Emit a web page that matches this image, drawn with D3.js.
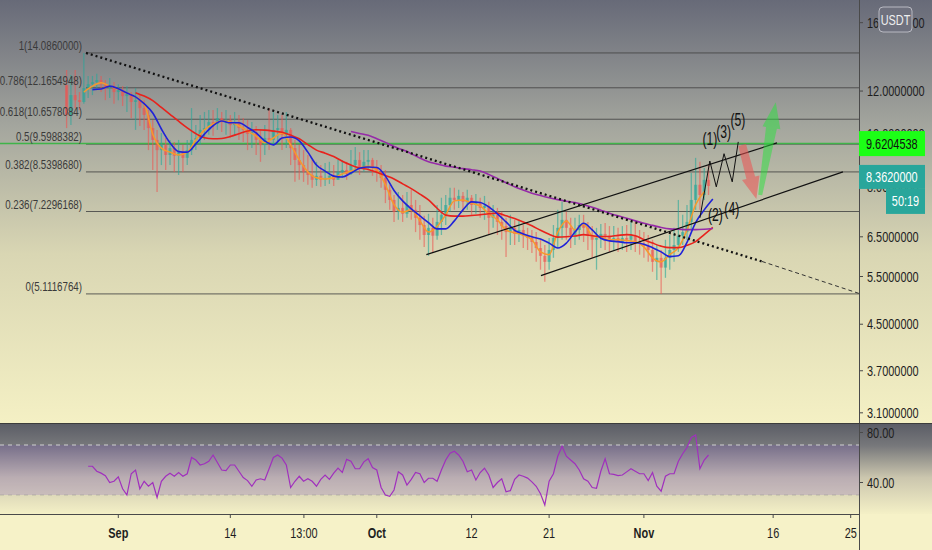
<!DOCTYPE html>
<html lang="en">

<script src="https://d3js.org/d3.v7.min.js"></script>

<head>
    <meta charset="UTF-8">
    <title>USDT chart</title>
    <style>
        body {
            margin: 0;
            background-color: #f6f2c8;
            overflow: hidden;
        }
        svg {
            display: block;
            font-family: "Liberation Sans", Arial, sans-serif;
        }
    </style>
</head>
<body>

    <svg width="932" height="550"></svg>

    <script>
        // ---- data ----
        // 12h candles starting Aug 26
        const candleStart = "2020-08-26T00:00:00Z";
        const candleStepHours = 12;
        const firstOpen = 12.30;

        const closes = [
            10.85, 11.80, 11.55, 11.46, 12.15, 12.35, 12.46, 12.57, 12.35, 12.15,
            12.25, 11.95, 12.05, 11.75, 11.85, 11.46, 11.55, 11.17, 10.85, 10.27,
            9.77, 9.36, 9.56, 9.17, 9.44, 9.14, 9.28, 9.06, 9.36, 9.77,
            9.85, 10.19, 10.27, 10.53, 10.45, 10.71, 10.53, 10.62, 10.40, 10.53,
            10.27, 10.19, 10.02, 10.10, 9.77, 9.56, 9.85, 9.77, 10.19, 10.27,
            9.98, 10.19, 9.44, 8.98, 8.79, 8.54, 8.43, 8.26, 8.40, 8.26,
            8.33, 8.40, 8.26, 8.54, 8.61, 8.47, 8.79, 8.98, 8.68, 8.91,
            8.98, 8.68, 8.54, 8.33, 7.92, 7.59, 7.22, 7.34, 7.16, 7.43,
            7.28, 7.04, 6.83, 6.55, 6.75, 6.53, 6.92, 7.13, 7.43, 7.66,
            7.59, 7.72, 7.53, 7.66, 7.43, 7.49, 7.34, 7.40, 7.04, 7.13,
            6.92, 6.80, 6.63, 6.75, 6.58, 6.69, 6.53, 6.47, 6.36, 6.20,
            6.00, 5.85, 6.15, 6.47, 6.75, 6.98, 6.75, 6.55, 6.69, 6.83,
            6.75, 6.53, 6.42, 6.47, 6.58, 6.53, 6.42, 6.47, 6.36, 6.47,
            6.42, 6.53, 6.36, 6.31, 6.26, 6.15, 5.85, 5.95, 5.71, 5.95,
            6.15, 6.28, 6.53, 6.63, 6.92, 7.59, 8.09, 7.75, 8.26, 8.05
        ];
        const highs = [
            13.11, 12.84, 13.11, 11.95, 14.09, 12.79, 12.79, 12.90, 12.79, 12.57,
            12.68, 12.46, 12.35, 12.25, 12.25, 11.95, 12.15, 11.80, 11.55, 11.08,
            10.62, 10.19, 10.06, 9.85, 9.77, 9.69, 9.77, 9.56, 9.77, 11.17,
            10.40, 10.85, 10.99, 11.08, 11.08, 11.17, 10.99, 11.08, 10.85, 10.99,
            10.85, 10.71, 10.62, 10.53, 10.36, 10.19, 10.40, 11.17, 10.99, 10.85,
            10.85, 10.99, 10.27, 9.77, 9.56, 9.36, 9.17, 8.98, 8.91, 8.79,
            8.87, 8.91, 8.79, 8.98, 8.98, 8.91, 9.36, 9.48, 9.28, 9.36,
            9.36, 9.06, 8.98, 8.79, 8.61, 8.09, 7.75, 7.85, 7.75, 7.85,
            7.92, 7.59, 7.43, 7.10, 7.16, 7.04, 7.43, 7.66, 7.75, 7.99,
            7.99, 7.92, 7.85, 7.92, 7.75, 7.78, 7.66, 7.72, 7.53, 7.43,
            7.34, 7.22, 7.04, 7.13, 6.98, 6.98, 6.83, 6.75, 6.69, 6.63,
            6.42, 6.28, 6.47, 6.83, 7.28, 7.53, 7.22, 7.04, 7.04, 7.13,
            7.13, 6.92, 6.80, 6.75, 6.86, 6.89, 6.80, 6.80, 6.75, 6.80,
            6.83, 6.92, 6.92, 6.69, 6.63, 6.55, 6.42, 6.28, 6.15, 6.42,
            6.55, 6.75, 7.59, 7.13, 7.43, 8.50, 9.06, 8.91, 8.68, 8.79
        ];
        const lows = [
            10.27, 10.40, 11.17, 11.08, 11.37, 11.65, 11.80, 12.05, 11.95, 11.55,
            11.65, 11.37, 11.55, 11.27, 10.99, 10.71, 10.19, 10.36, 10.19, 9.36,
            8.61, 7.85, 8.79, 8.61, 8.79, 8.54, 8.43, 8.54, 8.79, 9.17,
            9.36, 9.56, 9.77, 9.98, 9.94, 10.19, 10.10, 9.98, 9.85, 9.98,
            9.77, 9.69, 9.36, 9.44, 9.17, 8.91, 9.17, 9.36, 9.56, 9.69,
            9.36, 9.44, 8.79, 8.19, 8.26, 8.19, 8.09, 7.99, 8.05, 8.02,
            8.05, 8.12, 8.05, 8.26, 8.33, 8.26, 8.43, 8.54, 8.43, 8.54,
            8.61, 8.40, 8.19, 7.99, 7.49, 7.28, 6.92, 6.98, 6.92, 7.04,
            6.98, 6.63, 6.42, 6.23, 6.00, 6.07, 6.42, 6.55, 6.83, 7.22,
            7.28, 7.34, 7.22, 7.28, 7.13, 7.16, 7.04, 6.98, 6.55, 6.75,
            6.55, 6.42, 5.97, 6.28, 6.28, 6.36, 6.20, 6.15, 6.07, 5.85,
            5.66, 5.38, 5.66, 5.95, 6.20, 6.42, 6.42, 6.20, 6.28, 6.42,
            6.36, 6.15, 5.95, 5.66, 6.20, 6.15, 6.10, 6.15, 6.10, 6.15,
            6.10, 6.15, 6.10, 6.03, 5.95, 5.85, 5.61, 5.42, 5.11, 5.47,
            5.66, 5.85, 6.10, 6.28, 6.42, 6.69, 7.28, 7.28, 7.59, 7.75
        ];

        // moving averages, one value per day (every 2nd candle) from a start candle
        const orangeStart = 4;
        const orangeMA = [
            11.95, 12.25, 12.43, 12.25, 12.10, 11.90, 11.71, 11.38, 10.01, 9.44,
            9.28, 9.17, 9.28, 9.77, 10.19, 10.45, 10.58, 10.54, 10.36, 10.14,
            9.93, 9.65, 9.85, 10.06, 9.57, 8.98, 8.54, 8.33, 8.29, 8.33,
            8.47, 8.57, 8.68, 8.75, 8.61, 8.09, 7.44, 7.21, 7.28, 6.95,
            6.63, 6.79, 7.13, 7.56, 7.59, 7.49, 7.40, 7.16, 6.98, 6.69,
            6.61, 6.55, 6.42, 6.10, 6.03, 6.63, 6.95, 6.69, 6.85, 6.53,
            6.48, 6.42, 6.42, 6.40, 6.37, 6.23, 5.95, 5.85, 6.03, 6.21,
            6.69, 7.44, 7.86
        ];
        const blueStart = 6;
        const blueMA = [
            12.07, 12.10, 12.25, 12.12, 11.90, 11.71, 11.38, 10.94, 10.23, 9.65,
            9.30, 9.28, 9.61, 10.01, 10.37, 10.58, 10.50, 10.50, 10.30, 10.06,
            9.73, 9.57, 9.85, 9.89, 9.73, 9.28, 8.79, 8.57, 8.39, 8.36,
            8.50, 8.67, 8.72, 8.70, 8.39, 7.90, 7.56, 7.31, 7.10, 6.90,
            6.72, 6.72, 6.95, 7.28, 7.53, 7.51, 7.37, 7.16, 6.92, 6.68,
            6.58, 6.50, 6.44, 6.33, 6.20, 6.33, 6.63, 6.88, 6.69, 6.46,
            6.39, 6.37, 6.34, 6.34, 6.30, 6.21, 6.10, 5.98, 6.00, 6.35,
            6.90, 7.28, 7.62
        ];
        const redStart = 16;
        const redMA = [
            11.92, 11.75, 11.53, 11.20, 10.88, 10.57, 10.28, 10.03, 9.86, 9.82,
            9.83, 9.91, 10.03, 10.14, 10.20, 10.18, 10.14, 10.09, 9.97, 9.82,
            9.58, 9.36, 9.24, 9.11, 8.93, 8.79, 8.68, 8.63, 8.53, 8.41,
            8.29, 8.12, 7.96, 7.78, 7.59, 7.33, 7.12, 7.09, 7.09, 7.11,
            7.13, 7.16, 7.18, 7.10, 7.02, 6.92, 6.81, 6.68, 6.57, 6.49,
            6.50, 6.52, 6.56, 6.53, 6.51, 6.51, 6.54, 6.56, 6.53, 6.42,
            6.33, 6.25, 6.21, 6.21, 6.27, 6.37, 6.56, 6.76
        ];
        const purpleStart = 66;
        const purpleMA = [
            10.12, 10.04, 9.96, 9.82, 9.67, 9.50, 9.37, 9.22, 9.05, 8.91,
            8.83, 8.75, 8.71, 8.66, 8.62, 8.57, 8.45, 8.31, 8.16, 8.02,
            7.91, 7.81, 7.73, 7.66, 7.60, 7.55, 7.51, 7.44, 7.36, 7.27,
            7.18, 7.10, 7.03, 6.95, 6.88, 6.82, 6.76, 6.72, 6.71, 6.70,
            6.70, 6.71, 6.73
        ];

        // rsi, one value per candle from candle 5
        const rsiStart = 5;
        const rsiValues = [
            53, 53, 49, 47.5, 45.5, 40, 41, 44.5, 35, 30,
            47, 50, 35, 41, 37, 40, 28, 41, 45, 47.4,
            45, 48, 45, 47, 60, 58, 54, 55, 57, 62,
            56, 50, 49.5, 54, 54, 49, 44, 41.5, 37, 42,
            43, 42, 51, 60, 62, 59.5, 54, 36, 41, 45,
            41, 43, 41, 37, 42.5, 46, 42.5, 47.5, 51.5, 48,
            58.5, 57, 51, 51, 56.5, 59, 52, 50, 36, 30,
            29, 34, 48.6, 46, 38, 42.5, 48, 47, 40, 43.4,
            43.4, 41, 50, 58, 63.5, 65, 62, 57, 48.6, 50,
            42, 48, 51.4, 46, 36, 40, 43, 32.6, 33.5, 42.5,
            46, 45, 43.5, 40.5, 37, 31, 22, 41, 47, 61,
            69, 61, 58, 55, 50, 43, 41, 36, 35.4, 49,
            59, 47, 46.5, 45.5, 46, 48.5, 51, 49, 47, 47,
            41.5, 48, 37, 33, 45, 47, 47, 57, 63, 68,
            76, 78, 51, 58, 62
        ];

        // fibonacci retracement
        const fibRatios = ["1", "0.786", "0.618", "0.5", "0.382", "0.236", "0"];
        const fibPrices = [14.0860000, 12.1654948, 10.6578084, 9.5988382, 8.5398680, 7.2296168, 5.1116764];
        const fibStartBar = 4.5;

        // axis ticks
        const priceTicks = [16, 12, 10, 8, 6.5, 5.5, 4.5, 3.7, 3.1];
        const rsiTicks = [80, 40];
        const timeTicks = ["2020-09-01T00:00:00Z", "2020-09-14T00:00:00Z", "2020-09-22T13:00:00Z",
            "2020-10-01T00:00:00Z", "2020-10-12T00:00:00Z", "2020-10-21T00:00:00Z",
            "2020-11-01T00:00:00Z", "2020-11-16T00:00:00Z", "2020-11-25T00:00:00Z"];
        const timeLabels = ["Sep", "14", "13:00", "Oct", "12", "21", "Nov", "16", "25"];
        const boldLabels = ["Sep", "Oct", "Nov"];

        // price markers
        const greenLevel = 9.6204538;
        const lastPrice = 8.3620000;
        const countdown = "50:19";
        const currency = "USDT";

        // drawings, as [candle index, price]
        const trendLine = [[4.5, 14.086], [161.4, 5.86]];
        const trendExtension = [[161.4, 5.86], [184, 5.12]];
        const channelUpper = [[83.5, 6.03], [164.9, 9.65]];
        const channelLower = [[110.1, 5.52], [180.2, 8.54]];
        const wavePath = [[147.0, 7.04], [149.3, 8.94], [150.8, 8.02], [152.6, 9.22], [154.5, 8.19], [155.9, 9.69]];
        const waveLabels = ["(1)", "(3)", "(5)", "(2)", "(4)"];
        const waveLabelPos = [[149.3, 9.57], [152.5, 9.85], [155.8, 10.38], [150.6, 6.96], [154.4, 7.13]];
        const redArrow = [[156.8, 9.56], [160.1, 7.62]];
        const greenArrow = [[161.0, 7.75], [164.6, 11.45]];

        // ---- layout ----
        const svgElement = d3.select('svg');
        const axisX = 859;
        const mainBottom = 423;
        const rsiBottom = 514;

        const xScale = d3.scaleUtc()
            .domain([new Date("2020-09-01T00:00:00Z"), new Date("2020-11-25T00:00:00Z")])
            .range([118.3, 850.7]);
        const barX = (i) => xScale(new Date(Date.parse(candleStart) + i * candleStepHours * 3600e3));
        const yScale = d3.scaleLog().domain([2.97, 17.6]).range([mainBottom, 0]);
        const rsiScale = d3.scaleLinear().domain([20, 80]).range([507.5, 432.5]);

        // narrow text, like the screenshot
        function squishText(parent, x, y, str, size, anchor, color, weight, sx) {
            return parent.append("text")
                .attr("transform", `translate(${x},${y}) scale(${sx || 0.78},1)`)
                .attr("text-anchor", anchor)
                .attr("font-size", size)
                .attr("font-weight", weight || "normal")
                .attr("fill", color)
                .text(str);
        }

        // backgrounds
        const defs = svgElement.append("defs");
        const mainGrad = defs.append("linearGradient").attr("id", "mainBg")
            .attr("gradientUnits", "userSpaceOnUse")
            .attr("x1", 0).attr("y1", 0).attr("x2", 0).attr("y2", mainBottom);
        [[0, "#676a78"], [0.3, "#a4a69e"], [0.6, "#d9d6b3"], [1, "#f4f0c4"]].forEach(s => {
            mainGrad.append("stop").attr("offset", s[0]).attr("stop-color", s[1]);
        });
        const rsiGrad = defs.append("linearGradient").attr("id", "rsiBg")
            .attr("gradientUnits", "userSpaceOnUse")
            .attr("x1", 0).attr("y1", mainBottom).attr("x2", 0).attr("y2", rsiBottom);
        [[0, "#5a5c65"], [0.25, "#77787b"], [0.6, "#cbc6ae"], [1, "#f4f0c6"]].forEach(s => {
            rsiGrad.append("stop").attr("offset", s[0]).attr("stop-color", s[1]);
        });
        defs.append("clipPath").attr("id", "mainClip").append("rect")
            .attr("x", 0).attr("y", 0).attr("width", axisX).attr("height", mainBottom);
        defs.append("clipPath").attr("id", "rsiClip").append("rect")
            .attr("x", 0).attr("y", mainBottom).attr("width", axisX).attr("height", rsiBottom - mainBottom);

        svgElement.append("rect").attr("x", 0).attr("y", 0).attr("width", 932).attr("height", mainBottom)
            .attr("fill", "url(#mainBg)");
        svgElement.append("rect").attr("x", 0).attr("y", mainBottom).attr("width", 932).attr("height", rsiBottom - mainBottom)
            .attr("fill", "url(#rsiBg)");
        svgElement.append("rect").attr("x", 0).attr("y", rsiBottom).attr("width", 932).attr("height", 550 - rsiBottom)
            .attr("fill", "#f6f2c8");

        const mainG = svgElement.append("g").attr("clip-path", "url(#mainClip)");
        const rsiG = svgElement.append("g").attr("clip-path", "url(#rsiClip)");

        // fib levels
        fibPrices.forEach((p, k) => {
            mainG.append("line")
                .attr("x1", barX(fibStartBar)).attr("x2", axisX)
                .attr("y1", yScale(p)).attr("y2", yScale(p))
                .attr("stroke", "#454545").attr("stroke-width", 1).attr("opacity", 0.85);
            squishText(svgElement, barX(fibStartBar) - 4, yScale(p) - 3, fibRatios[k] + "(" + p.toFixed(7) + ")",
                12.5, "end", "#3a3a3a");
        });

        // green horizontal level
        mainG.append("line")
            .attr("x1", 0).attr("x2", axisX)
            .attr("y1", yScale(greenLevel)).attr("y2", yScale(greenLevel))
            .attr("stroke", "#3fb449").attr("stroke-width", 1.5);

        // candles
        closes.forEach((c, i) => {
            const o = i === 0 ? firstOpen : closes[i - 1];
            const hi = Math.max(highs[i], o, c);
            const lo = Math.min(lows[i], o, c);
            const up = c >= o;
            const col = up ? "rgba(38,166,154,0.6)" : "rgba(239,83,80,0.6)";
            const x = barX(i);
            mainG.append("line")
                .attr("x1", x).attr("x2", x)
                .attr("y1", yScale(hi)).attr("y2", yScale(lo))
                .attr("stroke", col).attr("stroke-width", 1.3);
            mainG.append("rect")
                .attr("x", x - 1.6).attr("width", 3.2)
                .attr("y", yScale(Math.max(o, c)))
                .attr("height", Math.max(1, Math.abs(yScale(o) - yScale(c))))
                .attr("fill", col);
        });

        // moving averages
        const maLine = d3.line()
            .x(d => barX(d[0]))
            .y(d => yScale(d[1]))
            .curve(d3.curveMonotoneX);
        function drawMA(values, start, color, width) {
            const pts = values.map((v, k) => [start + 2 * k, v]);
            mainG.append("path").datum(pts)
                .attr("d", maLine)
                .attr("fill", "none")
                .attr("stroke", color)
                .attr("stroke-width", width);
        }
        drawMA(orangeMA, orangeStart, "#f7992b", 1.5);
        drawMA(redMA, redStart, "#e8221c", 1.6);
        drawMA(purpleMA, purpleStart, "#962aa8", 1.6);
        drawMA(blueMA, blueStart, "#1f22d8", 1.6);

        // drawings
        const drawLine = d3.line().x(d => barX(d[0])).y(d => yScale(d[1]));
        mainG.append("path").datum(trendLine).attr("d", drawLine)
            .attr("fill", "none").attr("stroke", "#111").attr("stroke-width", 2.3)
            .attr("stroke-dasharray", "2,3");
        mainG.append("path").datum(trendExtension).attr("d", drawLine)
            .attr("fill", "none").attr("stroke", "#333").attr("stroke-width", 1)
            .attr("stroke-dasharray", "4,3");
        [channelUpper, channelLower].forEach(ch => {
            mainG.append("path").datum(ch).attr("d", drawLine)
                .attr("fill", "none").attr("stroke", "#111").attr("stroke-width", 1.2);
        });
        mainG.append("path").datum(wavePath).attr("d", drawLine)
            .attr("fill", "none").attr("stroke", "#111").attr("stroke-width", 1);

        waveLabels.forEach((t, k) => {
            squishText(mainG, barX(waveLabelPos[k][0]), yScale(waveLabelPos[k][1]), t, 19, "middle", "#111", "normal", 0.64);
        });

        // tapered block arrows
        function blockArrow(pair, color, shaftStart, shaftEnd, head, headLen) {
            const sx = barX(pair[0][0]), sy = yScale(pair[0][1]);
            const ex = barX(pair[1][0]), ey = yScale(pair[1][1]);
            const len = Math.hypot(ex - sx, ey - sy);
            const ux = (ex - sx) / len, uy = (ey - sy) / len;
            const nx = -uy, ny = ux;
            const hx = ex - ux * headLen, hy = ey - uy * headLen;
            const pts = [
                [sx + nx * shaftStart, sy + ny * shaftStart],
                [hx + nx * shaftEnd, hy + ny * shaftEnd],
                [hx + nx * head, hy + ny * head],
                [ex, ey],
                [hx - nx * head, hy - ny * head],
                [hx - nx * shaftEnd, hy - ny * shaftEnd],
                [sx - nx * shaftStart, sy - ny * shaftStart]
            ];
            mainG.append("polygon")
                .attr("points", pts.map(p => p.join(",")).join(" "))
                .attr("fill", color);
        }
        blockArrow(redArrow, "rgba(236,82,82,0.55)", 4, 4.5, 9, 22);
        blockArrow(greenArrow, "rgba(40,225,60,0.5)", 2, 5.5, 9, 26);

        // rsi panel
        rsiG.append("rect")
            .attr("x", 0).attr("width", axisX)
            .attr("y", rsiScale(70)).attr("height", rsiScale(30) - rsiScale(70))
            .attr("fill", "rgba(126,87,194,0.22)");
        rsiG.append("line").attr("x1", 0).attr("x2", axisX)
            .attr("y1", rsiScale(70)).attr("y2", rsiScale(70))
            .attr("stroke", "rgba(225,225,225,0.85)").attr("stroke-dasharray", "4,4");
        rsiG.append("line").attr("x1", 0).attr("x2", axisX)
            .attr("y1", rsiScale(30)).attr("y2", rsiScale(30))
            .attr("stroke", "rgba(140,140,140,0.45)").attr("stroke-dasharray", "4,4");
        const rsiLine = d3.line()
            .x((d, k) => barX(rsiStart + k))
            .y(d => rsiScale(d));
        rsiG.append("path").datum(rsiValues)
            .attr("d", rsiLine)
            .attr("fill", "none")
            .attr("stroke", "#a030bd")
            .attr("stroke-width", 1.2);

        // axis lines
        svgElement.append("line").attr("x1", axisX + 0.5).attr("x2", axisX + 0.5).attr("y1", 0).attr("y2", 550)
            .attr("stroke", "#4a4a4a");
        svgElement.append("line").attr("x1", 0).attr("x2", 932).attr("y1", mainBottom + 0.5).attr("y2", mainBottom + 0.5)
            .attr("stroke", "#3c3c3c");
        svgElement.append("line").attr("x1", 0).attr("x2", axisX).attr("y1", rsiBottom + 0.5).attr("y2", rsiBottom + 0.5)
            .attr("stroke", "#4a4a4a");

        // price axis
        const priceFmt = d3.format(".7f");
        priceTicks.forEach(v => {
            svgElement.append("line").attr("x1", axisX).attr("x2", axisX + 4)
                .attr("y1", yScale(v)).attr("y2", yScale(v)).attr("stroke", "#4a4a4a");
            squishText(svgElement, axisX + 8, yScale(v) + 5, priceFmt(v), 14, "start", "#1e1e1e");
        });
        rsiTicks.forEach(v => {
            svgElement.append("line").attr("x1", axisX).attr("x2", axisX + 4)
                .attr("y1", rsiScale(v)).attr("y2", rsiScale(v)).attr("stroke", "#4a4a4a");
            squishText(svgElement, axisX + 8, rsiScale(v) + 5, d3.format(".2f")(v), 14, "start", "#1e1e1e");
        });

        // time axis
        timeTicks.forEach((t, k) => {
            const x = xScale(new Date(t));
            svgElement.append("line").attr("x1", x).attr("x2", x)
                .attr("y1", rsiBottom).attr("y2", rsiBottom + 4).attr("stroke", "#4a4a4a");
            const bold = boldLabels.includes(timeLabels[k]);
            squishText(svgElement, x, 538, timeLabels[k], 14, "middle", "#1e1e1e", bold ? "bold" : "normal");
        });

        // currency badge
        svgElement.append("rect")
            .attr("x", 879).attr("y", 7).attr("width", 33).attr("height", 25).attr("rx", 4)
            .attr("fill", "#6f717e").attr("stroke", "#b9bac2");
        squishText(svgElement, 895.5, 24.5, currency, 14, "middle", "#eeeeee");

        // price boxes
        const gy = yScale(greenLevel);
        svgElement.append("rect").attr("x", axisX).attr("y", gy - 12.5).attr("width", 66).attr("height", 25)
            .attr("fill", "#1cff16");
        squishText(svgElement, axisX + 7, gy + 5, priceFmt(greenLevel), 14, "start", "#111");

        const ly = yScale(lastPrice);
        svgElement.append("rect").attr("x", axisX).attr("y", ly - 12).attr("width", 66).attr("height", 24)
            .attr("fill", "#29a69b");
        squishText(svgElement, axisX + 7, ly + 5, priceFmt(lastPrice), 14, "start", "#ffffff");
        svgElement.append("rect").attr("x", 886).attr("y", ly + 12).attr("width", 39).attr("height", 25)
            .attr("fill", "#29a69b");
        squishText(svgElement, 905.5, ly + 29, countdown, 14, "middle", "#ffffff");
    </script>
</body>
</html>
